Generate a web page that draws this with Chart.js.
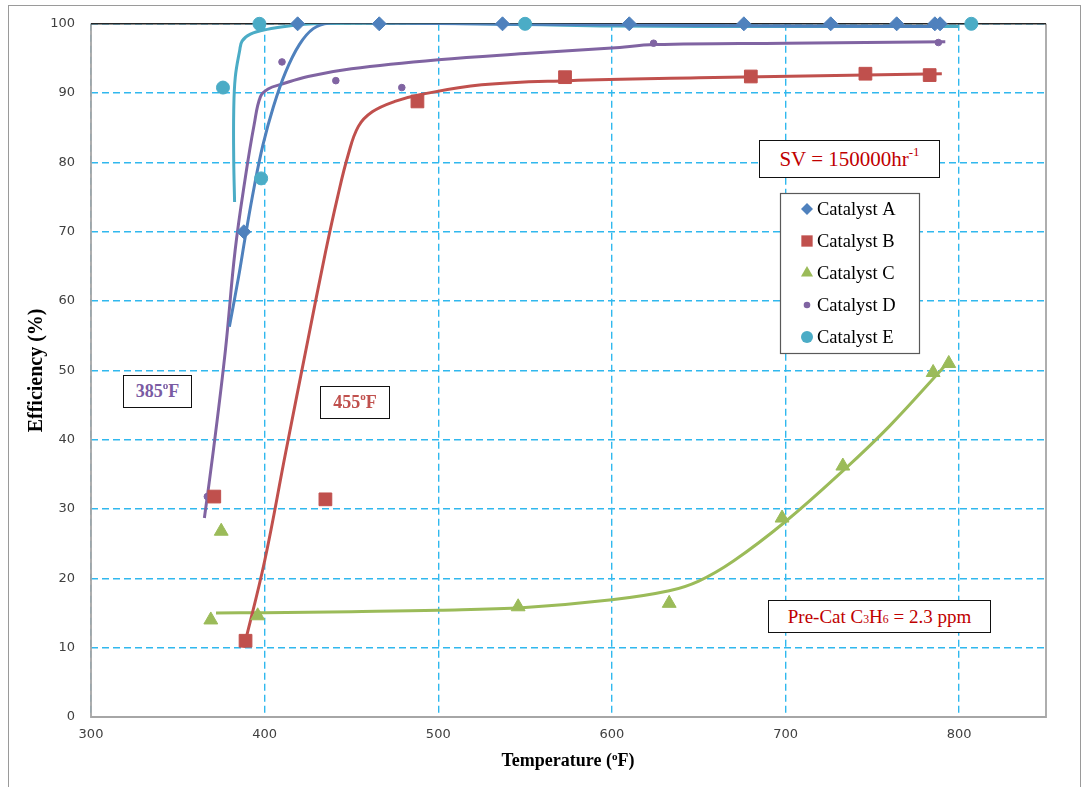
<!DOCTYPE html>
<html>
<head>
<meta charset="utf-8">
<script src="https://cdn.jsdelivr.net/npm/chart.js@4.4.1/dist/chart.umd.min.js"></script>
<style>
  html, body { margin: 0; padding: 0; background: #fff; }
  #wrap { position: relative; width: 1081px; height: 787px; overflow: hidden; }
  #frame { position: absolute; left: 8px; top: 5px; width: 1073px; height: 800px; border: 1.5px solid #9a9a9a; box-sizing: border-box; }
  #chart { position: absolute; left: 0; top: 0; }
  .note {
    position: absolute; box-sizing: border-box; border: 1.5px solid #111; background: #fff;
    font-family: "Liberation Serif", "Times New Roman", serif; white-space: nowrap;
    display: flex; align-items: center; justify-content: center;
  }
  .note sup, .note sub, #xtitle sup { font-size: 0.62em; line-height: 0; vertical-align: baseline; position: relative; }
  .note sup, #xtitle sup { top: -0.55em; }
  .note sub { top: 0.3em; }
  #sv { left: 759px; top: 140px; width: 181px; height: 38px; color: #C00000; font-size: 21px; }
  #precat { left: 768px; top: 600px; width: 223px; height: 33px; color: #C00000; font-size: 19px; }
  #t385 { left: 123px; top: 375px; width: 69px; height: 33px; color: #7A5BA3; font-size: 18px; font-weight: bold; }
  #t455 { left: 320px; top: 386px; width: 70px; height: 33px; color: #C0504D; font-size: 18px; font-weight: bold; }
  #xtitle {
    position: absolute; left: 468px; top: 750px; width: 200px; text-align: center;
    font-family: "Liberation Serif", "Times New Roman", serif; font-weight: bold; font-size: 18px; color: #000;
  }
</style>
</head>
<body>
<div id="wrap">
  <div id="frame"></div>
  <canvas id="chart" width="1081" height="787"></canvas>
  <div class="note" id="sv">SV = 150000hr<sup>-1</sup></div>
  <div class="note" id="precat">Pre-Cat C<sub>3</sub>H<sub>6</sub>&nbsp;= 2.3 ppm</div>
  <div class="note" id="t385">385<sup>o</sup>F</div>
  <div class="note" id="t455">455<sup>o</sup>F</div>
  <div id="xtitle">Temperature (<sup>o</sup>F)</div>
</div>
<script>
const seriesNames = ['Catalyst A', 'Catalyst B', 'Catalyst C', 'Catalyst D', 'Catalyst E'];
const seriesColors = ['#4F81BD', '#C0504D', '#9BBB59', '#8064A2', '#4BACC6'];
const seriesMarkers = ['rectRot', 'rect', 'triangle', 'circle', 'circle'];
const markerSizes = [7, 9, 8, 3.3, 6.5];
const legendSizes = [6, 8, 7, 3.3, 6];

const xTickValues = [300, 400, 500, 600, 700, 800];

// measured efficiency vs temperature
const tempA = [388, 419, 466, 537, 610, 676, 726, 764, 786, 789];
const effA  = [70, 100, 100, 100, 100, 100, 100, 100, 100, 100];
const tempB = [371, 389, 435, 488, 573, 680, 746, 783];
const effB  = [31.8, 11.0, 31.4, 88.8, 92.3, 92.4, 92.8, 92.6];
const tempC = [369, 375, 396, 546, 633, 698, 733, 785, 794];
const effC  = [14.0, 26.8, 14.6, 15.9, 16.4, 28.7, 36.2, 49.7, 51.0];
const tempD = [367, 410, 441, 479, 624, 788];
const effD  = [31.8, 94.5, 91.8, 90.8, 97.2, 97.3];
const tempE = [376, 397, 398, 550, 807];
const effE  = [90.8, 100, 77.7, 100, 100];

// smoothed trend curves
const fitTempA = [379.7, 385, 389, 394, 399, 405, 412, 420, 428, 437, 455, 500, 600, 700, 790];
const fitEffA  = [56.3, 63.5, 69.5, 76.5, 82.5, 88, 93, 97, 99.3, 100.1, 100.2, 100.05, 99.85, 99.7, 99.6];
const fitTempB = [388, 400, 412, 425, 435, 442, 448, 454, 462, 475, 490, 525, 575, 650, 720, 790];
const fitEffB  = [10, 22.5, 38, 54.5, 67, 75, 81, 85.2, 87.3, 88.8, 89.8, 91.2, 91.8, 92.2, 92.5, 92.8];
const fitTempC = [372, 400, 450, 500, 550, 600, 633, 650, 670, 700, 733, 760, 793];
const fitEffC  = [15.0, 15.05, 15.2, 15.4, 15.8, 16.9, 18.2, 19.6, 22.5, 28.2, 35.5, 42, 51];
const fitTempD = [365.3, 370.5, 377.4, 383, 389, 394, 397.6, 402, 410, 425, 450, 500, 550, 600, 625, 700, 792];
const fitEffD  = [28.7, 38.5, 52.9, 67.3, 78, 85.5, 89.5, 90.6, 91.3, 92.4, 93.5, 94.8, 95.7, 96.5, 97, 97.2, 97.4];
const fitTempE = [382.7, 382.2, 382.2, 383.1, 385.6, 387, 391.8, 401.4, 414.8, 428, 480, 550, 600, 700, 800];
const fitEffE  = [74.3, 80.3, 87.5, 92.3, 96.1, 97.5, 98.5, 99.2, 99.7, 100, 100.1, 99.9, 99.7, 99.6, 99.6];

const zip = (xs, ys) => xs.map((x, i) => ({ x: x, y: ys[i] }));

const measured = [zip(tempA, effA), zip(tempB, effB), zip(tempC, effC), zip(tempD, effD), zip(tempE, effE)];
const fitted = [zip(fitTempA, fitEffA), zip(fitTempB, fitEffB), zip(fitTempC, fitEffC),
                zip(fitTempD, fitEffD), zip(fitTempE, fitEffE)];

const datasets = [];
measured.forEach((pts, i) => {
  datasets.push({
    label: seriesNames[i],
    data: pts,
    showLine: false,
    pointStyle: seriesMarkers[i],
    pointRadius: markerSizes[i],
    pointHoverRadius: markerSizes[i],
    backgroundColor: seriesColors[i],
    borderColor: seriesColors[i],
    pointBorderWidth: 1,
    clip: false,
    order: 0
  });
});
fitted.forEach((pts, i) => {
  datasets.push({
    label: seriesNames[i] + ' trend',
    data: pts,
    showLine: true,
    pointRadius: 0,
    borderColor: seriesColors[i],
    borderWidth: 3,
    tension: 0.4,
    fill: false,
    order: 1
  });
});

function drawMarker(ctx, style, r, x, y, color) {
  ctx.fillStyle = color;
  ctx.beginPath();
  if (style === 'rectRot') {
    ctx.moveTo(x - r, y); ctx.lineTo(x, y - r); ctx.lineTo(x + r, y); ctx.lineTo(x, y + r);
  } else if (style === 'rect') {
    const s = r * Math.SQRT1_2;
    ctx.rect(x - s, y - s, 2 * s, 2 * s);
  } else if (style === 'triangle') {
    ctx.moveTo(x, y - r);
    ctx.lineTo(x + r * Math.sin(2 * Math.PI / 3), y - r * Math.cos(2 * Math.PI / 3));
    ctx.lineTo(x + r * Math.sin(4 * Math.PI / 3), y - r * Math.cos(4 * Math.PI / 3));
  } else {
    ctx.arc(x, y, r, 0, Math.PI * 2);
  }
  ctx.closePath();
  ctx.fill();
}

// axis lines: gray left/bottom/right, dark top edge
const plotFrame = {
  id: 'plotFrame',
  beforeDatasetsDraw(chart) {
    const { ctx, chartArea: a } = chart;
    ctx.save();
    ctx.lineWidth = 1.8;
    ctx.strokeStyle = '#a6a6a6';
    ctx.beginPath();
    ctx.moveTo(a.left, a.top);
    ctx.lineTo(a.left, a.bottom);
    ctx.lineTo(a.right, a.bottom);
    ctx.lineTo(a.right, a.top);
    ctx.stroke();
    ctx.lineWidth = 1.5;
    ctx.strokeStyle = '#262626';
    ctx.beginPath();
    ctx.moveTo(a.left, a.top);
    ctx.lineTo(a.right, a.top);
    ctx.stroke();
    ctx.restore();
  }
};

const legendBox = {
  id: 'legendBox',
  afterDraw(chart) {
    const ctx = chart.ctx;
    const x0 = 780, y0 = 193, w = 139, h = 160;
    ctx.save();
    ctx.fillStyle = '#fff';
    ctx.fillRect(x0, y0, w, h);
    ctx.strokeStyle = '#595959';
    ctx.lineWidth = 1.2;
    ctx.strokeRect(x0 + 0.5, y0 + 0.5, w, h);
    ctx.font = '18.5px "Liberation Serif", "Times New Roman", serif';
    ctx.textBaseline = 'middle';
    seriesNames.forEach((name, i) => {
      const y = y0 + 16 + i * 32;
      drawMarker(ctx, seriesMarkers[i], legendSizes[i], 807, y, seriesColors[i]);
      ctx.fillStyle = '#000';
      ctx.fillText(name, 817, y + 1);
    });
    ctx.restore();
  }
};

const gridColor = '#30B8EE';

new Chart(document.getElementById('chart'), {
  type: 'scatter',
  data: { datasets: datasets },
  plugins: [plotFrame, legendBox],
  options: {
    responsive: false,
    animation: false,
    events: [],
    layout: { padding: { top: 23, right: 35, left: 0, bottom: 0 } },
    plugins: {
      legend: { display: false },
      tooltip: { enabled: false }
    },
    scales: {
      x: {
        type: 'linear',
        min: 300,
        max: 850,
        afterBuildTicks: (scale) => { scale.ticks = xTickValues.map(v => ({ value: v })); },
        afterFit: (scale) => { scale.height = 70; },
        grid: { color: gridColor, lineWidth: 1.4, drawTicks: false, borderDash: [7, 4] },
        border: { display: false, dash: [7, 4] },
        ticks: {
          padding: 10,
          color: '#404040',
          font: { family: '"DejaVu Sans", Verdana, sans-serif', size: 13 }
        }
      },
      y: {
        min: 0,
        max: 100,
        afterFit: (scale) => { scale.width = 91; },
        grid: { color: gridColor, lineWidth: 1.4, drawTicks: false, borderDash: [7, 4] },
        border: { display: false, dash: [7, 4] },
        ticks: {
          stepSize: 10,
          padding: 16,
          color: '#404040',
          font: { family: '"DejaVu Sans", Verdana, sans-serif', size: 13 }
        },
        title: {
          display: true,
          text: 'Efficiency (%)',
          color: '#000',
          font: { family: '"Liberation Serif", "Times New Roman", serif', size: 20, weight: 'bold' },
          padding: { top: 25, bottom: 0 }
        }
      }
    }
  }
});
</script>
</body>
</html>
